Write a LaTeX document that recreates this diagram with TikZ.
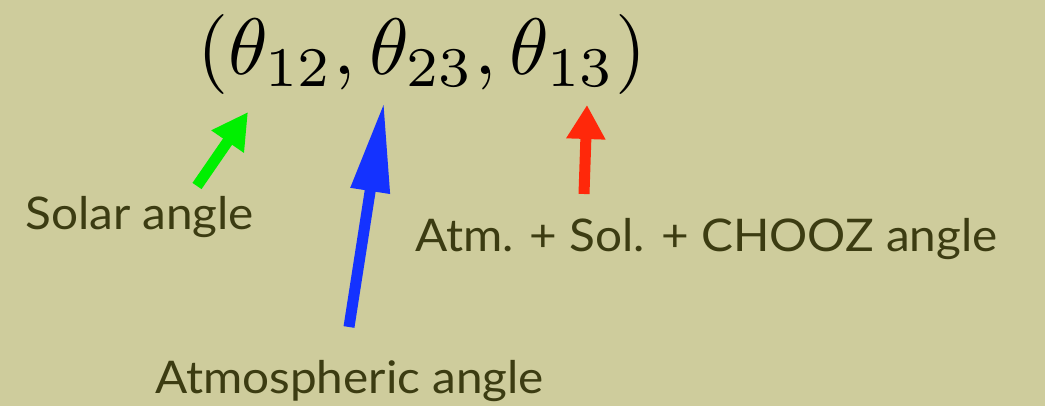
\documentclass[tikz,border=0pt]{standalone}
\usepackage{graphicx}
\usepackage{fontspec}
\setmainfont{Lato}[FakeStretch=1.06]
\usetikzlibrary{arrows.meta}
\definecolor{bg}{RGB}{206,204,156}
\definecolor{txt}{RGB}{60,60,18}
\definecolor{grn}{RGB}{0,240,0}
\definecolor{blu}{RGB}{20,50,255}
\definecolor{rd}{RGB}{255,40,10}
\tikzset{
  lbl/.style={text=txt, font=\fontsize{45}{54}\selectfont, inner sep=0pt, anchor=base west},
  pointer/.style={line width=11pt, -{Triangle[length=#1, width=37pt]}},
}
\begin{document}
\begin{tikzpicture}[x=1pt,y=-1pt]
\fill[bg] (0,0) rectangle (1045,406);
\useasboundingbox (0,0) rectangle (1045,406);
\node[inner sep=0pt, anchor=base west] (angles) at (197,75) {\scalebox{8}{$(\theta_{12},\theta_{23},\theta_{13})$}};
\node[lbl] (solar) at (25,230) {Solar angle};
\node[lbl] (atmsol) at (415,252) {Atm. + Sol. + CHOOZ angle};
\node[lbl] (atmos) at (155,393) {Atmospheric angle};
\coordinate (gtail) at (197,186);
\coordinate (gtip) at (248,112);
\coordinate (btail) at (349,327);
\coordinate (btip) at (384,102);
\coordinate (rtail) at (584,194);
\coordinate (rtip) at (587,105);
\draw[grn, pointer=36pt] (gtail) -- (gtip);
\draw[blu, pointer=90pt] (btail) -- (btip);
\draw[rd, pointer=34pt] (rtail) -- (rtip);
\end{tikzpicture}
\end{document}
